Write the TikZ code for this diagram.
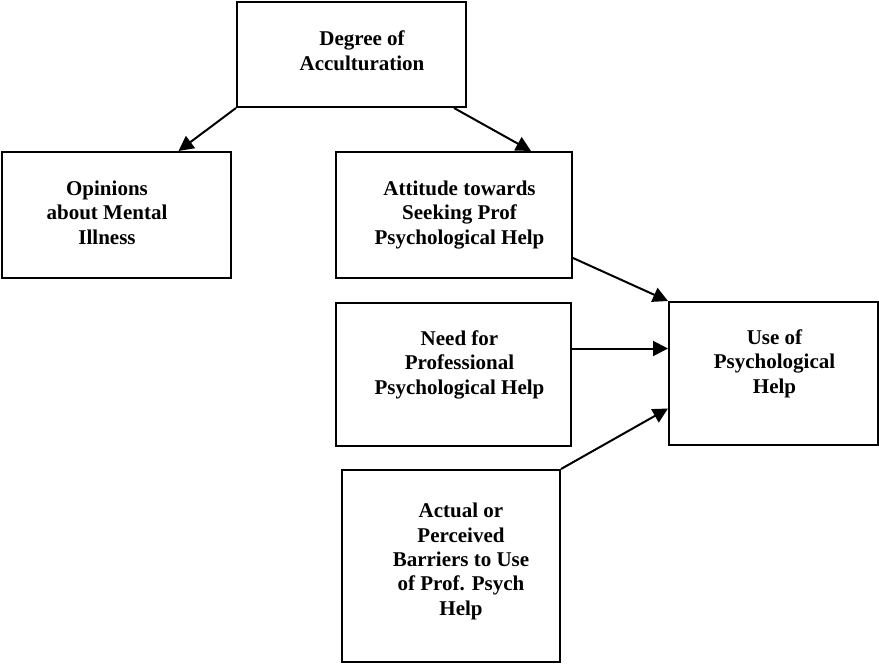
\documentclass[tikz,border=0pt]{standalone}
\usepackage{fontspec}
\setmainfont{Liberation Serif}
\usetikzlibrary{arrows.meta}

\begin{document}
\begin{tikzpicture}[x=1pt,y=-1pt]
\tikzstyle{box}=[rectangle,draw,line width=2pt,inner sep=0pt]
\tikzstyle{lbl}=[align=center,anchor=base,inner sep=0pt,font=\fontsize{21}{24.3}\selectfont\bfseries]
\tikzstyle{link}=[line width=2pt,-{Triangle[length=15pt,width=15pt]}]

\useasboundingbox (0,0) rectangle (879,664);

\node[box,minimum width=229pt,minimum height=105pt] (degree)   at (351.5,54.5) {};
\node[box,minimum width=229pt,minimum height=126pt] (opinions) at (116.5,215) {};
\node[box,minimum width=236pt,minimum height=126pt] (attitude) at (454,215) {};
\node[box,minimum width=235pt,minimum height=143pt] (need)     at (453.5,374.5) {};
\node[box,minimum width=209pt,minimum height=143pt] (use)      at (773.5,373.5) {};
\node[box,minimum width=218pt,minimum height=192pt] (actual)   at (451,566) {};

% anchor=base sits on the last line
\node[lbl] (degreeText)   at (362,70)    {Degree of\\Acculturation};
\node[lbl] (opinionsText) at (107,244)   {Opinions\\about Mental\\Illness};
\node[lbl] (attitudeText) at (459.5,244) {Attitude towards\\Seeking Prof\\Psychological Help};
\node[lbl] (needText)     at (459.5,394) {Need for\\Professional\\Psychological Help};
\node[lbl] (useText)      at (774.5,393) {Use of\\Psychological\\Help};
\node[lbl] (actualText)   at (461,615)   {Actual or\\Perceived\\Barriers to Use\\of Prof. Psych\\Help};

\draw[link] (degree.south west) -- ([xshift=62pt]opinions.north);
\draw[link] ([xshift=-13pt]degree.south east) -- ([xshift=77pt]attitude.north);

\draw[link] ([yshift=21pt]attitude.south east) -- (use.north west);
\draw[link] ([yshift=26pt]need.east) -- ([yshift=26pt]need.east -| use.west);
\draw[link] (actual.north east) -- ([yshift=-35pt]use.west);

\end{tikzpicture}
\end{document}
